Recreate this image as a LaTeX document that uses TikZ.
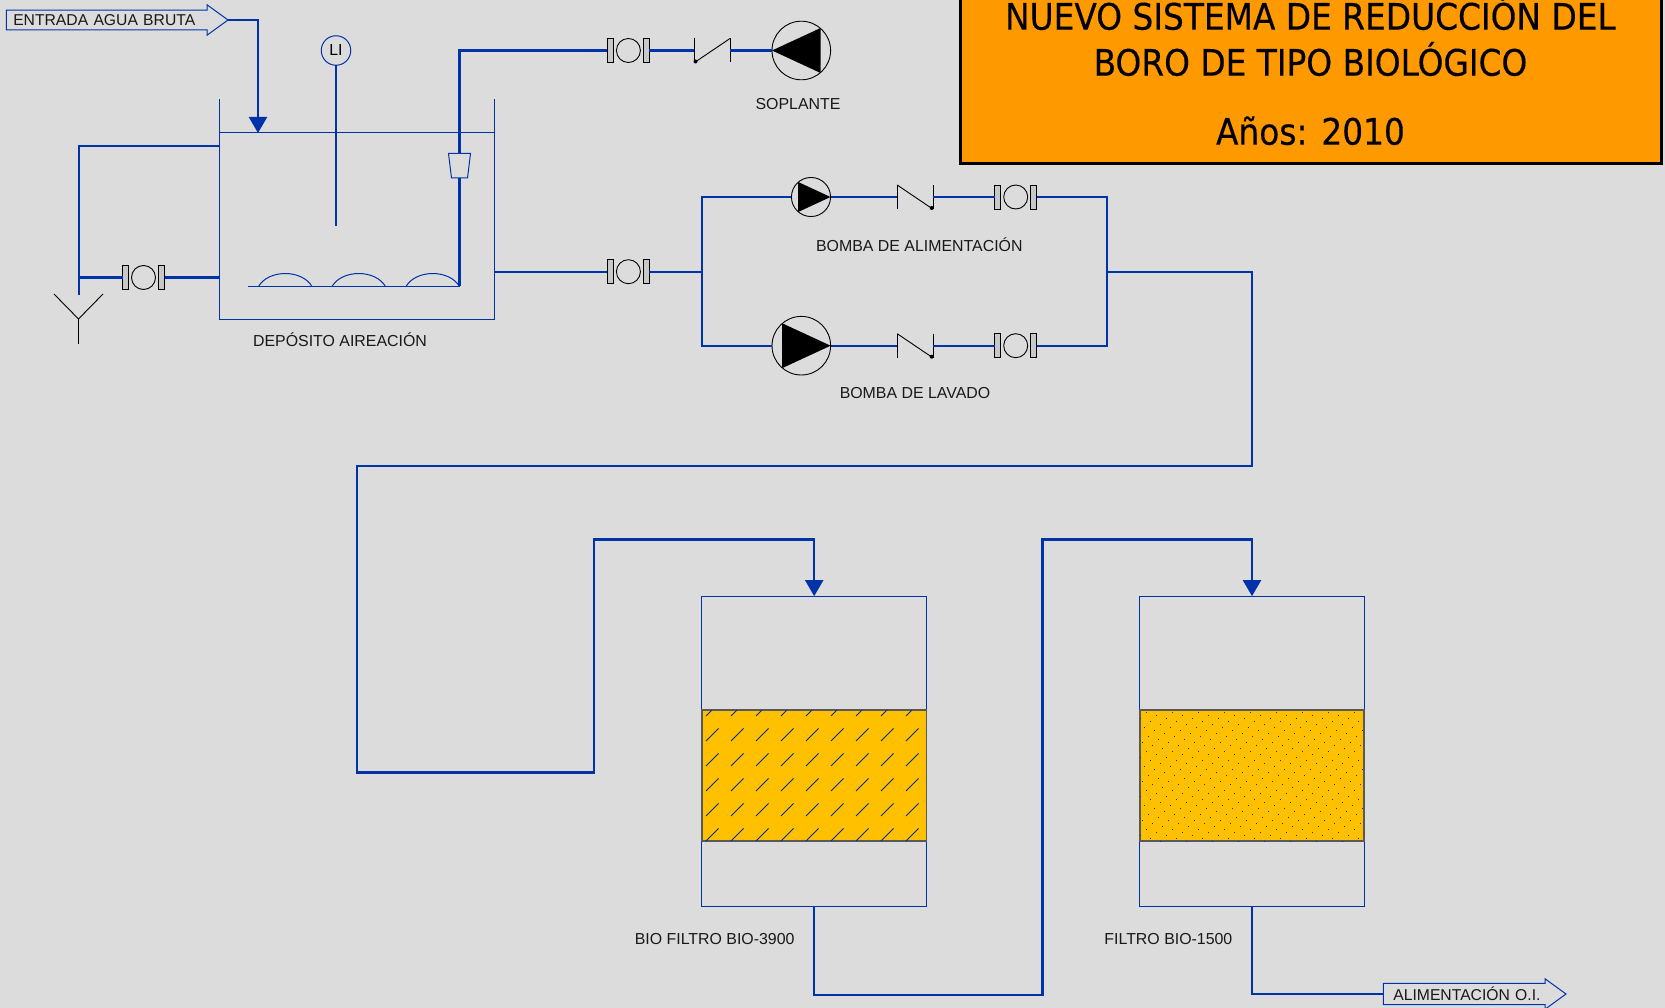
\documentclass[tikz,border=0pt]{standalone}
\usepackage{fontspec}
\setmainfont{Liberation Sans}
\newfontfamily\titlefont[FakeBold=0.3]{DejaVu Sans Condensed}
\usetikzlibrary{shapes.arrows, arrows.meta, positioning}
\definecolor{cbg}{HTML}{DCDCDC}
\definecolor{cpipe}{HTML}{0033AA}
\definecolor{corange}{HTML}{FF9900}
\definecolor{cmedia}{HTML}{FFC000}
\definecolor{cflange}{HTML}{C8C8C8}

\begin{document}
\begin{tikzpicture}[
    x=1pt, y=-1pt,
    pipe/.style={draw=cpipe, line width=2.3pt},
    thinline/.style={draw=cpipe, line width=1pt},
    symline/.style={draw=black, line width=0.9pt},
    flowtip/.style={-{Triangle[length=16pt,width=18pt]}},
    vessel/.style={draw=cpipe, line width=1pt, inner sep=0pt, outer sep=0pt},
    lbl/.style={font=\fontsize{15.9}{18}\selectfont, text=black!90, inner sep=0pt},
    tagbox/.style={single arrow, draw=cpipe, line width=1pt, fill=cbg, font=\fontsize{15.7}{18}\selectfont, text=black!90, align=left, single arrow head extend=3.2pt, single arrow tip angle=72, minimum width=30.5pt, inner xsep=6.5pt, inner ysep=0pt, outer sep=0pt},
    media/.style={draw=black!65, line width=1.7pt, fill=cmedia, inner sep=0pt, outer sep=0pt, minimum width=224.5pt, minimum height=131pt},
    valve/.pic={
        \draw[symline, fill=cflange] (-21,-12) rectangle (-15,12);
        \draw[symline] (0,0) circle (12);
        \draw[symline, fill=cflange] (15,-12) rectangle (21,12);
        \coordinate (-in) at (-21,0);
        \coordinate (-out) at (21,0);
    },
    checkvalve/.pic={
        \draw[symline] (-18,-12) -- (-18,12);
        \draw[symline] (18,-12) -- (18,12);
        \draw[symline] (-18,-12) -- (16,11);
        \fill (16.5,11) circle (2);
        \coordinate (-in) at (-18,0);
        \coordinate (-out) at (18,0);
    },
    pump/.pic={
        \draw[symline] (0,0) circle (29.3);
        \fill (29.3,0) -- (-19.3,-22.5) -- (-19.3,22.5) -- cycle;
        \coordinate (-in) at (-29.3,0);
        \coordinate (-out) at (29.3,0);
    }
]
\useasboundingbox (0,0) rectangle (1665,1008);
\fill[cbg] (0,0) rectangle (1665,1008);

% deposito
\node[vessel, minimum width=275pt, minimum height=187pt] (tank) at (357,226) {};
\draw[thinline] (tank.north west) -- ++(0,-33.5);
\draw[thinline] (tank.north east) -- ++(0,-33.5);
\node[lbl, below=13pt of tank, xshift=-17pt] (tanklbl) {DEPÓSITO AIREACIÓN};
\node[vessel, circle, minimum size=29.5pt, font=\fontsize{15.9}{18}\selectfont] (li) at (336,50.5) {LI};
\coordinate (liend) at (336,226);
\draw[pipe, line width=1.8pt] (li) -- (liend);

% difusores
\coordinate (diffa) at (248,286.5);
\coordinate (diffb) at (459.5,286.5);
\draw[thinline] (diffa) -- (diffb);
\foreach \d in {258.5,332,406}
    \draw[thinline] (\d,286.5) .. controls ({\d+10},269.2) and ({\d+43.5},269.2) .. ({\d+53.5},286.5);
\coordinate (cupt) at (459.5,153.5);
\coordinate (cupb) at (459.5,178);
\draw[thinline] (448.5,153.5) -- (470.5,153.5) -- (467.5,178) -- (451.5,178) -- cycle;

% entrada y rebose
\node[tagbox, text width=194pt, anchor=tip] (tagin) at (228,20) {ENTRADA AGUA BRUTA};
\coordinate (inlet) at (258,133);
\draw[pipe, flowtip] (tagin.tip) -| (inlet);
\coordinate (ovf) at ([yshift=-13.5pt]tank.north west);
\coordinate (drainend) at (79,295);
\draw[pipe] (ovf) -| (drainend);
\pic (vd) at (143.5,277.5) {valve};
\coordinate (drainj) at (79,277.5);
\coordinate (draint) at (tank.west |- drainj);
\draw[pipe] (drainj) -- (vd-in);
\draw[pipe] (vd-out) -- (draint);
\coordinate (ya) at (54,294);
\coordinate (yb) at (103,294);
\coordinate (yc) at (78.5,319);
\coordinate (yd) at (78.5,344);
\draw[symline] (ya) -- (yc) -- (yb);
\draw[symline] (yc) -- (yd);

% soplante
\pic (va) at (628.4,50.5) {valve};
\pic[xscale=-1] (ca) at (712,50.5) {checkvalve};
\pic[xscale=-1] (pa) at (801.3,50.5) {pump};
\draw[pipe] (diffb) -- (cupb);
\draw[pipe] (cupt) |- (va-in);
\draw[pipe] (va-out) -- (ca-out);
\draw[pipe] (ca-in) -- (pa-out);
\node[lbl] (soplbl) at (798,104.5) {SOPLANTE};

% bombas
\pic (vm) at (628.4,271.7) {valve};
\coordinate (tankout) at (tank.east |- vm-in);
\coordinate (coll) at (701.7,271.7);
\coordinate (colr) at (1107,271.7);
\draw[pipe] (tankout) -- (vm-in);
\draw[pipe] (vm-out) -- (coll);
\pic[scale=0.667] (pb) at (811,197) {pump};
\pic (cb) at (915.2,197) {checkvalve};
\pic (vb) at (1015.7,197) {valve};
\pic (pc) at (801.3,345.7) {pump};
\pic (cc) at (915.2,345.7) {checkvalve};
\pic (vc) at (1015.7,345.7) {valve};
\draw[pipe] (coll) |- (pb-in);
\draw[pipe] (coll) |- (pc-in);
\draw[pipe] (pb-out) -- (cb-in);
\draw[pipe] (pc-out) -- (cc-in);
\draw[pipe] (cb-out) -- (vb-in);
\draw[pipe] (cc-out) -- (vc-in);
\draw[pipe] (vb-out) -| (colr);
\draw[pipe] (vc-out) -| (colr);
\node[lbl] (pblbl) at (919.3,244.8) {BOMBA DE ALIMENTACIÓN};
\node[lbl] (pclbl) at (915,393) {BOMBA DE LAVADO};

% filtros
\node[vessel, minimum width=225pt, minimum height=310.7pt] (bioa) at (814.2,751.5) {};
\node[vessel, right=212.8pt of bioa, minimum width=225pt, minimum height=310.7pt] (biob) {};
\node[media] (mediaa) at (814.2,775.6) {};
\node[media] (mediab) at (biob |- mediaa) {};
\begin{scope}
    \clip (mediaa.south west) rectangle (mediaa.north east);
    \foreach \i in {0,...,8}
        \foreach \j in {0,...,5}
            \draw[draw=cpipe!85!black, line width=0.9pt] ({706+25*\i},{716+25*\j}) -- ++(12.5,-12.5);
\end{scope}
\begin{scope}
    \clip (mediab.south west) rectangle (mediab.north east);
    \foreach \i in {-20,...,36}
        \foreach \j in {-26,...,24}
            \fill[cpipe] ({1146+10*\i-6*\j},{712+3*\i+6*\j}) rectangle ++(1,1);
\end{scope}
\node[lbl, below=26pt of bioa.south west, anchor=north east, xshift=93pt] (bioalbl) {BIO FILTRO BIO-3900};
\node[lbl, below=26pt of biob.south west, anchor=north east, xshift=93pt] (bioblbl) {FILTRO BIO-1500};

% tuberias
\coordinate (la) at (1252,466.2);
\coordinate (lb) at (356.8,772.5);
\coordinate (lc) at (594,539.5);
\coordinate (ld) at (1042.5,995.3);
\coordinate (le) at (ld |- lc);
\draw[pipe, flowtip] (colr) -| (la) -| (lb) -| (lc) -| (bioa.north);
\draw[pipe, flowtip] (bioa.south) |- (ld) -- (le) -| (biob.north);
\node[tagbox, text width=148pt, inner xsep=9.5pt, anchor=tip] (tagout) at (1566,994) {ALIMENTACIÓN O.I.};
\draw[pipe] (biob.south) |- (tagout.west);

% titulo
\node[draw=black, line width=3pt, fill=corange, minimum width=701pt, minimum height=180pt, inner sep=0pt] (titlebox) at (1310.5,74) {};
\node[font=\titlefont\fontsize{36.5}{46}\selectfont, align=center, inner sep=0pt] (titletxt) at (1310.5,70.5) {NUEVO SISTEMA DE REDUCCIÓN DEL\\BORO DE TIPO BIOLÓGICO\\[23pt]Años: 2010};
\end{tikzpicture}
\end{document}
